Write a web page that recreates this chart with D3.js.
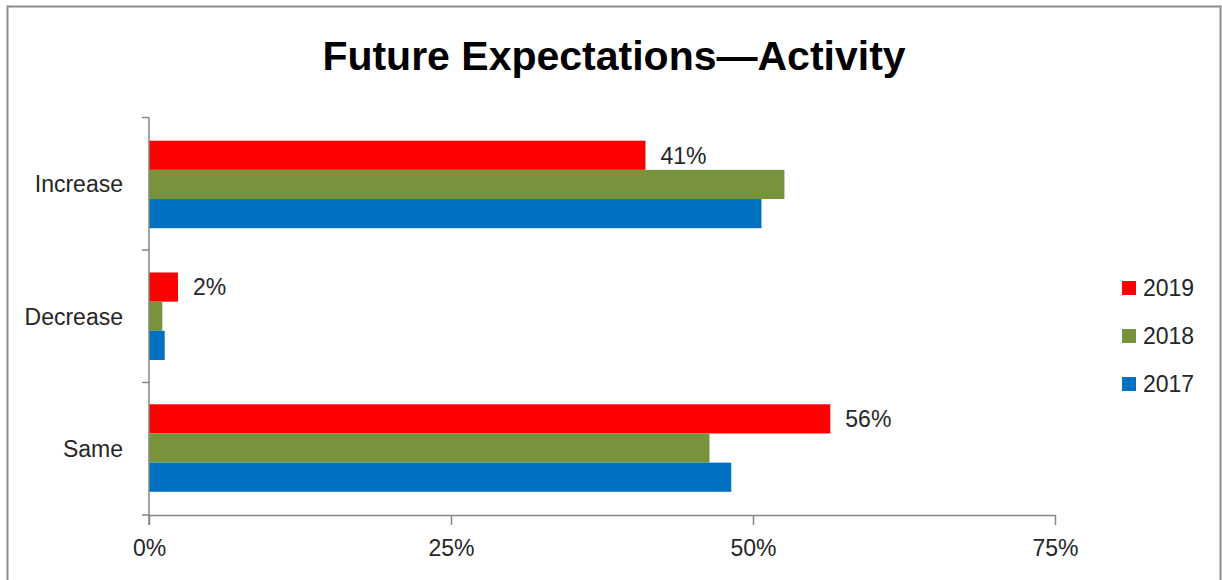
<!DOCTYPE html>
<html>
<head>
<meta charset="utf-8">
<script src="https://cdn.jsdelivr.net/npm/d3@7"></script>
<style>
  html, body { margin: 0; padding: 0; background: #fff; }
  svg { display: block; }
  text { font-family: "Liberation Sans", Arial, sans-serif; fill: #262626; }
</style>
</head>
<body>
<svg id="chart" width="1222" height="580"></svg>
<script>
const title = "Future Expectations\u2014Activity";
const categories = ["Increase", "Decrease", "Same"];
const seriesNames = ["2019", "2018", "2017"];
const seriesColors = ["#ff0000", "#77933c", "#0070c0"];
const values2019 = [0.411, 0.024, 0.564];
const values2018 = [0.526, 0.011, 0.464];
const values2017 = [0.507, 0.013, 0.482];
const labels2019 = ["41%", "2%", "56%"];
const xTicks = [0, 0.25, 0.5, 0.75];

const seriesValues = [values2019, values2018, values2017];

const svg = d3.select("#chart");

// outer frame
svg.append("rect")
  .attr("x", 7.5).attr("y", 6.5)
  .attr("width", 1213).attr("height", 600)
  .attr("fill", "none").attr("stroke", "#8c8c8c").attr("stroke-width", 2);

// title
svg.append("text")
  .attr("x", 614).attr("y", 70)
  .attr("text-anchor", "middle")
  .style("font-size", "41px").style("font-weight", "bold")
  .style("fill", "#000")
  .text(title);

const x = d3.scaleLinear().domain([0, 0.75]).range([149, 1055]);
const y0 = d3.scaleBand().domain(categories).range([117.5, 515]).paddingInner(0.336).paddingOuter(0.176);
const y1 = d3.scaleBand().domain(seriesNames).range([0, y0.bandwidth()]);

// bars
const g = svg.append("g");
categories.forEach((c, ci) => {
  seriesNames.forEach((s, si) => {
    g.append("rect")
      .attr("x", x(0))
      .attr("y", y0(c) + y1(s))
      .attr("width", x(seriesValues[si][ci]) - x(0))
      .attr("height", y1.bandwidth())
      .attr("fill", seriesColors[si]);
  });
  // data label for 2019
  g.append("text")
    .attr("x", x(values2019[ci]) + 15)
    .attr("y", y0(c) + y1("2019") + y1.bandwidth() / 2)
    .attr("dy", "0.36em")
    .style("font-size", "23px")
    .text(labels2019[ci]);
});

// x axis
const xAxis = svg.append("g").attr("transform", "translate(0,515)")
  .call(d3.axisBottom(x).tickValues(xTicks).tickFormat(d3.format(".0%")).tickSize(10).tickSizeOuter(0));
xAxis.select(".domain").attr("stroke", "#868686").attr("stroke-width", 1.5);
xAxis.selectAll(".tick line").attr("stroke", "#868686").attr("stroke-width", 1.5);
xAxis.selectAll(".tick text").attr("y", 25).attr("dy", "0.71em")
  .style("font-size", "23px").style("font-family", "Liberation Sans, Arial, sans-serif").attr("fill", "#262626");

// y axis with ticks at band boundaries
const yAxisG = svg.append("g").attr("transform", "translate(149,0)");
const yLin = d3.scaleLinear().domain([0, 3]).range([117.5, 515]);
yAxisG.append("line").attr("x1", 0).attr("x2", 0).attr("y1", yLin(0)).attr("y2", yLin(3) + 10)
  .attr("stroke", "#868686").attr("stroke-width", 1.5);
d3.range(0, 4).forEach(i => {
  yAxisG.append("line").attr("x1", -7).attr("x2", 0).attr("y1", yLin(i)).attr("y2", yLin(i))
    .attr("stroke", "#868686").attr("stroke-width", 1.5);
});
categories.forEach((c, ci) => {
  yAxisG.append("text")
    .attr("x", -26)
    .attr("y", (yLin(ci) + yLin(ci + 1)) / 2)
    .attr("dy", "0.36em")
    .attr("text-anchor", "end")
    .style("font-size", "23px")
    .text(c);
});

// legend
const legend = svg.append("g");
seriesNames.forEach((s, i) => {
  const ly = 288 + i * 48;
  legend.append("rect").attr("x", 1122).attr("y", ly - 7).attr("width", 14).attr("height", 14)
    .attr("fill", seriesColors[i]);
  legend.append("text").attr("x", 1143).attr("y", ly).attr("dy", "0.36em")
    .style("font-size", "23px").text(s);
});
</script>
</body>
</html>
